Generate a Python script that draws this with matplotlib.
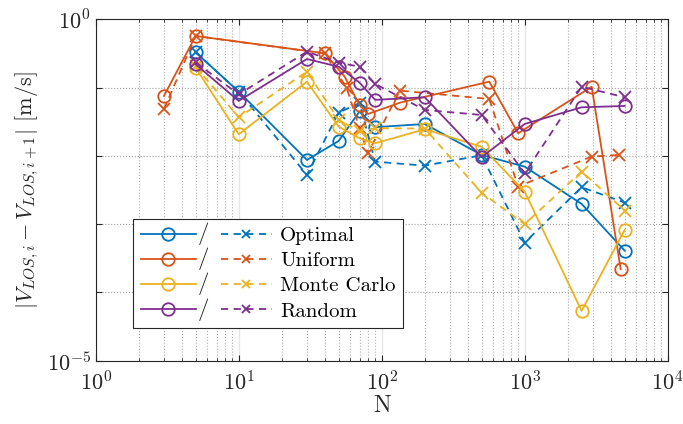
import matplotlib
matplotlib.use("Agg")
import matplotlib.pyplot as plt
from matplotlib.lines import Line2D
from matplotlib.text import Text
from matplotlib.legend_handler import HandlerBase
from matplotlib.ticker import FixedLocator, FixedFormatter, LogLocator, NullFormatter, NullLocator

plt.rcParams['font.family'] = 'serif'
plt.rcParams['font.serif'] = ['cmr10']
plt.rcParams['mathtext.fontset'] = 'cm'
plt.rcParams['axes.formatter.use_mathtext'] = True

# sample counts and errors for each sampling scheme
n_opt = [5, 10, 30, 50, 70, 90, 200, 500, 1000, 2500, 5000]
opt_a = [0.329, 0.0871, 0.00871, 0.0165, 0.0447, 0.0263, 0.0293, 0.0103, 0.00695, 0.00198, 0.000409]
opt_b = [0.329, 0.0871, 0.00525, 0.0430, 0.0594, 0.00822, 0.00719, 0.0102, 0.000537, 0.00347, 0.00207]

n_uni_a = [3, 5, 40, 55, 70, 80, 135, 565, 900, 2940, 4690]
n_uni_b = [3, 5, 40, 57, 70, 80, 134, 565, 900, 2940, 4580]
uni_a = [0.0753, 0.569, 0.318, 0.145, 0.0556, 0.0410, 0.0603, 0.122, 0.0214, 0.103, 0.000219]
uni_b = [0.0481, 0.569, 0.316, 0.0977, 0.0254, 0.0109, 0.0902, 0.0681, 0.00355, 0.00977, 0.0103]

n_mc = [5, 10, 30, 50, 70, 90, 200, 500, 1000, 2500, 5000]
mc_a = [0.196, 0.0207, 0.122, 0.0268, 0.0181, 0.0153, 0.0245, 0.0136, 0.00299, 0.0000537, 0.000822]
mc_b = [0.204, 0.0367, 0.171, 0.0336, 0.0229, 0.0254, 0.0251, 0.00288, 0.0010, 0.00589, 0.00158]

n_rnd = [5, 10, 30, 50, 70, 90, 200, 500, 1000, 2500, 5000]
rnd_a = [0.219, 0.0637, 0.262, 0.202, 0.118, 0.0661, 0.0721, 0.00955, 0.0293, 0.0514, 0.0538]
rnd_b = [0.234, 0.0794, 0.336, 0.232, 0.202, 0.113, 0.0470, 0.0397, 0.00556, 0.103, 0.0721]

labels = ['Optimal', 'Uniform', 'Monte Carlo', 'Random']
colors = ['#0072BD', '#D95319', '#EDB120', '#7E2F8E']

series = [
    (n_opt, opt_a, n_opt, opt_b),
    (n_uni_a, uni_a, n_uni_b, uni_b),
    (n_mc, mc_a, n_mc, mc_b),
    (n_rnd, rnd_a, n_rnd, rnd_b),
]


class PairHandler(HandlerBase):
    # solid-with-circle  /  dashed-with-cross
    def create_artists(self, legend, orig_handle, xdescent, ydescent,
                       width, height, fontsize, trans):
        solid, dashed = orig_handle
        y = height / 2 - ydescent
        w1 = width * 0.42
        x2 = width * 0.61
        l1 = Line2D([-xdescent, -xdescent + w1], [y, y], color=solid.get_color(),
                    lw=solid.get_linewidth())
        m1 = Line2D([-xdescent + w1 / 2], [y], color=solid.get_color(), marker='o',
                    ms=solid.get_markersize(), mfc='none', mew=solid.get_markeredgewidth())
        sl = Text(-xdescent + width * 0.48, y, '/', ha='center', va='center',
                  fontsize=fontsize * 1.1, color='#262626')
        l2 = Line2D([-xdescent + x2, -xdescent + width], [y, y], color=dashed.get_color(),
                    lw=dashed.get_linewidth(), ls=(0, (4, 3)))
        m2 = Line2D([-xdescent + (x2 + width) / 2], [y], color=dashed.get_color(), marker='x',
                    ms=dashed.get_markersize() * 0.8, mew=dashed.get_markeredgewidth())
        arts = [l1, m1, sl, l2, m2]
        for a in arts:
            a.set_transform(trans)
        return arts


fig = plt.figure(figsize=(6.83, 4.24), dpi=100)
ax = fig.add_axes([0.1401, 0.1493, 0.8375, 0.8052])

handles = []
for (xa, ya, xb, yb), c in zip(series, colors):
    h1, = ax.plot(xa, ya, '-o', color=c, lw=1.3, ms=9, mfc='none', mew=1.3, zorder=3)
    h2, = ax.plot(xb, yb, '--x', color=c, lw=1.3, ms=8, mew=1.3, dashes=(4, 3), zorder=3)
    handles.append((h1, h2))

ax.set_xscale('log')
ax.set_yscale('log')
ax.set_xlim(1, 1e4)
ax.set_ylim(1e-5, 1)

ax.yaxis.set_major_locator(FixedLocator([1e-5, 1e-4, 1e-3, 1e-2, 1e-1, 1]))
ax.yaxis.set_major_formatter(FixedFormatter([r'$10^{-5}$', '', '', '', '', r'$10^{0}$']))
ax.yaxis.set_minor_locator(NullLocator())
ax.xaxis.set_major_locator(LogLocator(base=10, numticks=10))
ax.xaxis.set_minor_locator(LogLocator(base=10, subs=range(2, 10), numticks=50))
ax.xaxis.set_minor_formatter(NullFormatter())

ax.grid(True, axis='y', which='major', ls=':', color='#a0a0a0', lw=0.8)
ax.grid(True, axis='x', which='major', ls='-', color='#e6e6e6', lw=1.0)
ax.grid(True, axis='x', which='minor', ls=':', color='#b0b0b0', lw=0.8)
ax.set_axisbelow(True)

ax.tick_params(which='both', direction='in', top=True, right=True, labelsize=16,
               color='#262626', labelcolor='#262626')
ax.tick_params(which='major', length=4, width=0.8)
ax.tick_params(which='minor', length=2.5, width=0.6)
ax.tick_params(axis='x', which='major', pad=7)
for s in ax.spines.values():
    s.set_color('#262626')
    s.set_linewidth(0.8)

ax.set_xlabel('N', fontsize=17, color='#262626', labelpad=0)
ax.set_ylabel(r'$|V_{LOS,i} - V_{LOS,i+1}|$ [m/s]', fontsize=16, color='#262626', labelpad=4)

leg = ax.legend(handles, labels, handler_map={tuple: PairHandler()},
                loc='upper left', bbox_to_anchor=(0.066, 0.415),
                handlelength=6.3, handletextpad=0.4, labelspacing=0.32,
                borderpad=0.35, fontsize=15, fancybox=False, framealpha=1,
                edgecolor='#262626', borderaxespad=0)
leg.get_frame().set_linewidth(0.8)

fig.savefig('out.png', dpi=100)
